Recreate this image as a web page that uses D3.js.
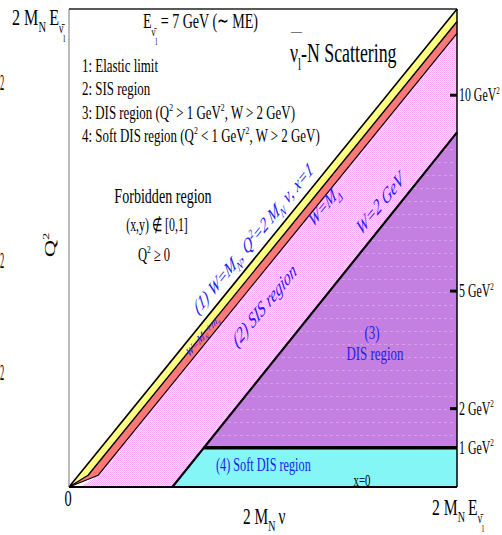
<!DOCTYPE html>
<html>
<head>
<meta charset="utf-8">
<script src="https://cdn.jsdelivr.net/npm/d3@7"></script>
<style>
  body { margin: 0; background: #fff; }
  svg { display: block; font-family: "Liberation Serif", "Times New Roman", serif; }
</style>
</head>
<body>
<script>
// kinematic plane, both axes in GeV^2, top / right edge = 2 M_N E
const q2Max = 12.2;
const elasticLine = [[0, 0], [12.2, 12.2]];              // W = M_N , x = 1
const pionLine    = [[0, 0], [0.6, 0.3], [12.2, 11.88]];  // W = M_N + m_pi
const deltaLine   = [[0, 0], [0.92, 0.3], [12.2, 11.58]]; // W = M_Delta
const w2Line      = [[3.25, 0], [12.2, 9.05]];            // W = 2 GeV
const q2OneLine   = [[4.24, 1], [12.2, 1]];               // Q^2 = 1 GeV^2
const sisStart    = [0.35, 0];
const q2Ticks     = [10, 5, 2];
const q2TickLabels = [10, 5, 2, 1];

const W = 502, H = 535;
const x = d3.scaleLinear().domain([0, q2Max]).range([69, 457]);
const y = d3.scaleLinear().domain([0, q2Max]).range([487, 9]);

const svg = d3.select("body").append("svg").attr("width", W).attr("height", H);

// textures
const defs = svg.append("defs");
const pk = defs.append("pattern").attr("id", "pink").attr("patternUnits", "userSpaceOnUse")
  .attr("width", 2).attr("height", 2);
pk.append("rect").attr("width", 2).attr("height", 2).attr("fill", "#ffdcff");
pk.append("rect").attr("width", 1).attr("height", 1).attr("fill", "#ffa4ff");
pk.append("rect").attr("x", 1).attr("y", 1).attr("width", 1).attr("height", 1).attr("fill", "#ffb4ff");
const pu = defs.append("pattern").attr("id", "purple").attr("patternUnits", "userSpaceOnUse")
  .attr("width", 6).attr("height", 13);
pu.append("rect").attr("width", 6).attr("height", 13).attr("fill", "#c47fe0");
pu.append("rect").attr("y", 6).attr("width", 3).attr("height", 1).attr("fill", "#d4a0ea");

const line = d3.line().x(d => x(d[0])).y(d => y(d[1]));
const poly = pts => line(pts) + "Z";
const last = a => a[a.length - 1];

// regions
svg.append("path").attr("d", poly([...elasticLine, ...pionLine.slice().reverse()])).attr("fill", "#ffff80");
svg.append("path").attr("d", poly([...pionLine, ...deltaLine.slice().reverse()])).attr("fill", "#ff7878");
svg.append("path").attr("d", poly([sisStart, ...deltaLine.slice(1), ...w2Line.slice().reverse()])).attr("fill", "url(#pink)");
svg.append("path").attr("d", poly([q2OneLine[0], last(w2Line), last(q2OneLine)])).attr("fill", "url(#purple)");
svg.append("path").attr("d", poly([w2Line[0], q2OneLine[0], last(q2OneLine), [q2Max, 0]])).attr("fill", "#84f6f6");

// boundaries
[[elasticLine, 1.6], [pionLine, 1.4], [deltaLine, 1.2], [w2Line, 2.2], [q2OneLine, 3.6]].forEach(([pts, w]) => {
  svg.append("path").attr("d", line(pts)).attr("fill", "none").attr("stroke", "#000")
    .attr("stroke-width", w).attr("stroke-linejoin", "round");
});

// frame
svg.append("line").attr("x1", x(0)).attr("x2", x(0)).attr("y1", y(q2Max)).attr("y2", y(0))
  .attr("stroke", "#777").attr("stroke-width", 1);
svg.append("line").attr("x1", x(0)).attr("x2", x(q2Max)).attr("y1", y(q2Max)).attr("y2", y(q2Max))
  .attr("stroke", "#222").attr("stroke-width", 1.5);
svg.append("line").attr("x1", x(q2Max)).attr("x2", x(q2Max)).attr("y1", y(q2Max)).attr("y2", y(0))
  .attr("stroke", "#000").attr("stroke-width", 1.5);
svg.append("line").attr("x1", x(0)).attr("x2", x(q2Max)).attr("y1", y(0)).attr("y2", y(0))
  .attr("stroke", "#000").attr("stroke-width", 2.2);

// right ticks
svg.selectAll(".tick").data(q2Ticks).enter().append("line")
  .attr("x1", x(q2Max) - 7).attr("x2", x(q2Max)).attr("y1", d => y(d)).attr("y2", d => y(d))
  .attr("stroke", "#000").attr("stroke-width", 3);

// rich text helper: parts are strings or [text, baseline offset in em, size factor]
function label(s) {
  const t = svg.append("text")
    .attr("transform", `translate(${s.x},${s.y}) scale(${s.sx || 1},1) rotate(${s.rot || 0})`)
    .attr("font-size", s.size).attr("fill", s.fill || "#000")
    .attr("text-anchor", s.anchor || "start")
    .attr("font-style", s.italic ? "italic" : null);
  let base = 0;
  s.parts.forEach(p => {
    const [str, off = 0, k = 1] = typeof p === "string" ? [p] : p;
    t.append("tspan").text(str).attr("dy", ((off - base) * s.size).toFixed(2)).attr("font-size", s.size * k);
    base = off;
  });
  return t;
}
const nubar = ["\u03BD\u0304", 0.36, 0.6];
const lsub = ["l", 0.76, 0.45];
const sup2 = ["2", -0.42, 0.6];
const subN = ["N", 0.3, 0.65];

q2TickLabels.forEach(v => {
  label({ x: 459, y: y(v) + 6, size: 18, sx: 0.66, parts: [v + " GeV", sup2] });
});

const blue = "#2020f0";
const rot = -37.4, sq = 0.62;
const texts = [
  { x: 12, y: 25, size: 23, sx: 0.7, parts: ["2 M", subN, ["\u2009E", 0], nubar, lsub] },
  { x: 143, y: 28, size: 22, sx: 0.64, parts: ["E", nubar, lsub, [" = 7 GeV (\u223C ME)", 0]] },
  { x: 291, y: 35, size: 11, sx: 1, parts: ["\u2014"] },
  { x: 290, y: 62, size: 27, sx: 0.66, parts: ["\u03BD", ["l", 0.3, 0.6], ["-N Scattering", 0]] },
  { x: 82, y: 72, size: 19, sx: 0.68, parts: ["1: Elastic limit"] },
  { x: 82, y: 95, size: 19, sx: 0.68, parts: ["2: SIS region"] },
  { x: 82, y: 119, size: 19, sx: 0.68, parts: ["3: DIS region (Q", sup2, [" > 1 GeV", 0], sup2, [", W > 2 GeV)", 0]] },
  { x: 82, y: 142, size: 19, sx: 0.68, parts: ["4: Soft DIS region (Q", sup2, [" < 1 GeV", 0], sup2, [", W > 2 GeV)", 0]] },
  { x: 163, y: 203, size: 22, sx: 0.64, anchor: "middle", parts: ["Forbidden region"] },
  { x: 157, y: 231, size: 18, sx: 0.66, anchor: "middle", parts: ["(x,y) \u2209  [0,1]"] },
  { x: 154, y: 261, size: 19, sx: 0.66, anchor: "middle", parts: ["Q", sup2, [" \u2265 0", 0]] },
  { x: 55, y: 245, size: 24, sx: 0.6, rot: -90, anchor: "middle", parts: ["Q", sup2] },
  { x: 0, y: 90, size: 24, sx: 0.35, parts: ["2"] },
  { x: 0, y: 268, size: 24, sx: 0.35, parts: ["2"] },
  { x: 0, y: 380, size: 24, sx: 0.35, parts: ["2"] },
  { x: 68, y: 506, size: 24, sx: 0.6, anchor: "middle", parts: ["0"] },
  { x: 243, y: 524, size: 24, sx: 0.64, parts: ["2 M", subN, ["\u2009\u03BD", 0]] },
  { x: 432, y: 515, size: 23, sx: 0.68, parts: ["2 M", subN, ["\u2009E", 0], nubar, lsub] },
  { x: 362, y: 486, size: 16, sx: 0.68, anchor: "middle", parts: ["x=0"] },
  { x: 372, y: 339, size: 19, sx: 0.68, anchor: "middle", fill: blue, parts: ["(3)"] },
  { x: 375, y: 360, size: 19, sx: 0.68, anchor: "middle", fill: blue, parts: ["DIS region"] },
  { x: 216, y: 471, size: 18, sx: 0.68, fill: blue, parts: ["(4) Soft DIS region"] },
  { x: 198, y: 315, size: 21, sx: sq, rot: rot, italic: true, fill: blue,
    parts: ["(1) W=M", subN, [",  Q", 0], sup2, ["=2 M", 0], subN, [" \u03BD,   x=1", 0]] },
  { x: 189, y: 358, size: 14, sx: sq, rot: rot, italic: true, fill: blue,
    parts: ["W=M", subN, ["+m", 0], ["\u03C0", 0.3, 0.65]] },
  { x: 313, y: 228, size: 21, sx: sq, rot: rot, italic: true, fill: blue, parts: ["W=M", ["\u0394", 0.3, 0.65]] },
  { x: 237, y: 348, size: 22, sx: sq, rot: rot, italic: true, fill: blue, parts: ["(2) SIS region"] },
  { x: 361, y: 236, size: 22, sx: sq, rot: rot, italic: true, fill: blue, parts: ["W=2 GeV"] }
];
texts.forEach(label);
</script>
</body>
</html>
